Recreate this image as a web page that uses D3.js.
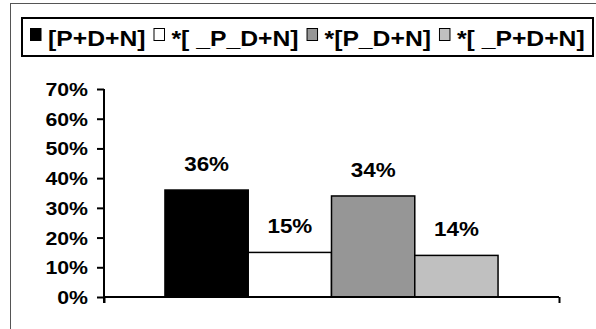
<!DOCTYPE html>
<html>
<head>
<meta charset="utf-8">
<script src="https://cdn.jsdelivr.net/npm/d3@7"></script>
<style>
  html, body { margin: 0; padding: 0; background: #fff; }
  text { font-family: "Liberation Sans", Arial, sans-serif; font-weight: bold; fill: #000; }
</style>
</head>
<body>
<svg id="chart" width="596" height="329"></svg>
<script>
// Series names, shares and fills
const seriesNames = ["[P+D+N]", "*[ _P_D+N]", "*[P_D+N]", "*[ _P+D+N]"];
const seriesValues = [0.36, 0.15, 0.34, 0.14];
const seriesFills = ["#000000", "#ffffff", "#969696", "#c0c0c0"];
const categories = [""];
const yTicks = [0, 0.1, 0.2, 0.3, 0.4, 0.5, 0.6, 0.7];

const svg = d3.select("#chart");
const pct = d3.format(".0%");
const stretch = 1.15; // glyphs are drawn wide

function wideText(sel, x, y) {
  sel.attr("transform", `translate(${x},${y}) scale(${stretch},1)`);
}

// outer frame (runs off the right and bottom edges)
svg.append("rect")
  .attr("x", 10.5).attr("y", 3.5)
  .attr("width", 700).attr("height", 400)
  .attr("fill", "none").attr("stroke", "#555").attr("stroke-width", 1);

// scales
const plot = { left: 104, right: 559, top: 89, bottom: 297 };
const y = d3.scaleLinear().domain([0, 0.7]).range([plot.bottom, plot.top]);
const x0 = d3.scaleBand().domain(categories).range([plot.left, plot.right])
  .paddingInner(0).paddingOuter(0.183);
const x1 = d3.scaleBand().domain(seriesNames).range([0, x0.bandwidth()]).padding(0);

// bars with value labels
const g = svg.append("g");
categories.forEach(cat => {
  seriesNames.forEach((name, i) => {
    const v = seriesValues[i];
    const bx = x0(cat) + x1(name);
    g.append("rect")
      .attr("x", bx).attr("y", y(v))
      .attr("width", x1.bandwidth()).attr("height", y(0) - y(v))
      .attr("fill", seriesFills[i]).attr("stroke", "#000").attr("stroke-width", 1.5);
    g.append("text")
      .attr("text-anchor", "middle")
      .style("font-size", "19.5px")
      .text(pct(v))
      .call(wideText, bx + x1.bandwidth() / 2, y(v) - 19);
  });
});

// y axis
const yAxis = d3.axisLeft(y).tickValues(yTicks).tickFormat(pct).tickSize(7).tickPadding(9);
const ya = svg.append("g").attr("transform", `translate(${plot.left},0)`).call(yAxis);
ya.attr("font-size", null).attr("font-family", null);
ya.select(".domain").attr("d", `M0,${plot.top}V${plot.bottom + 6}`)
  .attr("stroke", "#000").attr("stroke-width", 2);
ya.selectAll(".tick line").attr("stroke", "#000").attr("stroke-width", 2);
ya.selectAll(".tick text").each(function () {
  const t = d3.select(this);
  const tx = +t.attr("x");
  t.attr("x", null).attr("dy", null)
    .attr("dominant-baseline", "central")
    .style("font-size", "18.5px")
    .attr("text-anchor", "end")
    .call(wideText, tx, 0);
});

// x axis: category boundaries with outward ticks
const xBounds = d3.scalePoint().domain(["start", "end"]).range([plot.left, plot.right]);
const xa = svg.append("g").attr("transform", `translate(0,${plot.bottom})`)
  .call(d3.axisBottom(xBounds).tickSize(6).tickFormat(""));
xa.select(".domain").attr("d", `M${plot.left},0H${plot.right}`)
  .attr("stroke", "#000").attr("stroke-width", 2);
xa.selectAll(".tick line").attr("stroke", "#000").attr("stroke-width", 2);

// legend
const legend = svg.append("g");
legend.append("rect")
  .attr("x", 22).attr("y", 18)
  .attr("width", 571).attr("height", 38)
  .attr("fill", "#fff").attr("stroke", "#000").attr("stroke-width", 2);
let lx = 30;
seriesNames.forEach((name, i) => {
  legend.append("rect")
    .attr("x", lx + 0.5).attr("y", 28.5)
    .attr("width", 10.5).attr("height", 12)
    .attr("fill", seriesFills[i]).attr("stroke", "#000").attr("stroke-width", 1);
  const t = legend.append("text")
    .style("font-size", "21.5px")
    .text(name)
    .call(wideText, lx + 18, 46);
  lx += 18 + t.node().getComputedTextLength() * stretch + 8;
});
</script>
</body>
</html>
